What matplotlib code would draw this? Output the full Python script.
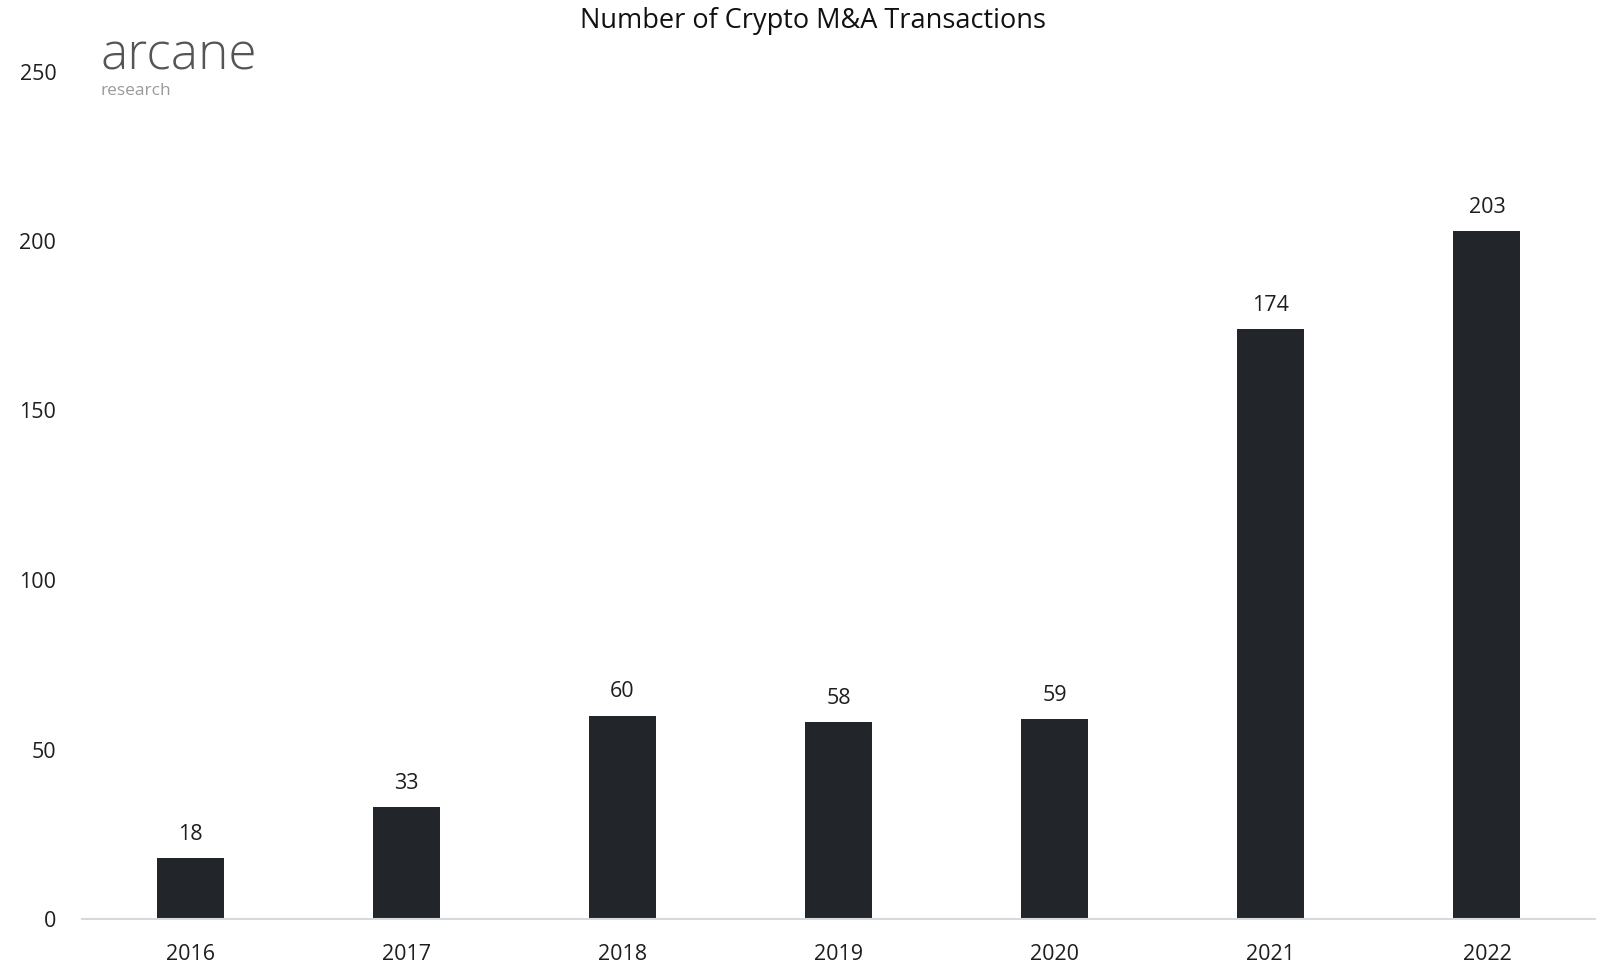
import matplotlib
matplotlib.use("Agg")
import matplotlib.pyplot as plt

years = ["2016", "2017", "2018", "2019", "2020", "2021", "2022"]
transactions = [18, 33, 60, 58, 59, 174, 203]
y_ticks = [0, 50, 100, 150, 200, 250]

plt.rcParams["font.family"] = ["Open Sans", "DejaVu Sans"]

fig = plt.figure(figsize=(16.01, 9.65), dpi=100)
W, H = 1601, 965
ax_left, ax_right = 82, 1595
ax_top, ax_bottom = 71.5, 919
ax = fig.add_axes([ax_left / W, 1 - ax_bottom / H,
                   (ax_right - ax_left) / W, (ax_bottom - ax_top) / H])

bar_color = "#22252a"
x = list(range(len(years)))
bars = ax.bar(x, transactions, width=0.31, color=bar_color, zorder=2)

for xi, v in zip(x, transactions):
    ax.annotate(str(v), (xi, v), xytext=(0, 17), textcoords="offset points",
                ha="center", va="center", fontsize=15.5, color="#1e1e1e")

ax.set_xlim(-0.5, len(years) - 0.5)
ax.set_ylim(0, 250)
ax.set_xticks(x)
ax.set_xticklabels(years)
ax.set_yticks(y_ticks)
ax.set_yticklabels([str(t) for t in y_ticks])
ax.tick_params(axis="both", length=0, labelsize=15.5, colors="#1e1e1e")
ax.tick_params(axis="x", pad=18)
ax.tick_params(axis="y", pad=18.5)

for side in ("top", "right", "left"):
    ax.spines[side].set_visible(False)
ax.spines["bottom"].set_color("#d6d9de")
ax.spines["bottom"].set_linewidth(1.5)

fig.text(0.5075, 1 - 21 / H, "Number of Crypto M&A Transactions",
         ha="center", va="center", fontsize=19.5, color="#111111")

# brand mark
fig.text(100 / W, 1 - 69 / H, "arcane", ha="left", va="baseline",
         fontsize=37, color="#555555", fontweight="light")
fig.text(100 / W, 1 - 95 / H, "research", ha="left", va="baseline",
         fontsize=12.5, color="#9a9a9a")

fig.savefig("out.png", dpi=100, facecolor="white")
